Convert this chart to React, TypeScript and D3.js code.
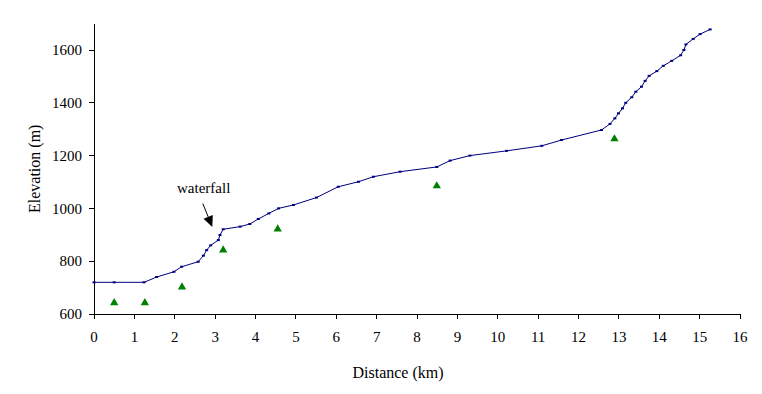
import React from "react";
import * as d3 from "d3";

const distances = [0, 0.5, 1.24, 1.55, 1.98, 2.17, 2.58, 2.71, 2.79, 2.89, 3.08, 3.12, 3.2, 3.62, 3.86, 4.07, 4.33, 4.57, 4.94, 5.51, 6.05, 6.55, 6.92, 7.58, 8.49, 8.82, 9.31, 10.22, 11.09, 11.58, 12.57, 12.78, 12.9, 12.99, 13.09, 13.17, 13.32, 13.42, 13.56, 13.65, 13.75, 13.94, 14.1, 14.31, 14.53, 14.61, 14.66, 14.84, 15.01, 15.26];
const elevations = [720, 720, 720, 740, 760, 779, 798, 821, 842, 860, 880, 899, 921, 931, 941, 960, 981, 1000, 1013, 1041, 1082, 1101, 1120, 1139, 1157, 1181, 1200, 1218, 1237, 1259, 1297, 1320, 1341, 1360, 1379, 1400, 1421, 1442, 1461, 1483, 1502, 1520, 1540, 1559, 1580, 1600, 1621, 1642, 1660, 1678];

const sampleDistances = [0.5, 1.26, 2.18, 3.2, 4.55, 8.49, 12.89];
const sampleElevations = [642, 642, 702, 842, 922, 1085, 1263];

const xTicks = d3.range(0, 17, 1);
const yTicks = [600, 800, 1000, 1200, 1400, 1600];

const annotationText = "waterfall";
const annotationPoint = { d: 2.93, e: 880 };

const W = 762;
const H = 394;
const FONT = "Liberation Serif";
const ts = (size: number) => ({ fontFamily: FONT, fontSize: size + "px" });

export default function App() {
  const x = d3.scaleLinear().domain([0, 16]).range([94, 740]);
  const y = d3.scaleLinear().domain([600, 1700]).range([314, 23.6]);

  const pts = distances.map((d, i) => [d, elevations[i]] as [number, number]);
  const line = d3
    .line<[number, number]>()
    .x((p) => x(p[0]))
    .y((p) => y(p[1]));
  const tri = d3.symbol().type(d3.symbolTriangle).size(30)();

  const tipX = x(annotationPoint.d);
  const tipY = y(annotationPoint.e) - 13;
  const tailX = tipX - 9.5;
  const tailY = tipY - 23.5;
  const ang = Math.atan2(tipY - tailY, tipX - tailX);
  const ah = 11;
  const aw = 5;
  const bx = tipX - ah * Math.cos(ang);
  const by = tipY - ah * Math.sin(ang);
  const head = `M${tipX},${tipY}L${bx + aw * Math.sin(ang)},${by - aw * Math.cos(ang)}L${bx - aw * Math.sin(ang)},${by + aw * Math.cos(ang)}Z`;

  return (
    <svg width={W} height={H} style={{ position: "absolute", left: 0, top: 0, background: "#fff" }}>
      <rect x={0} y={0} width={W} height={H} fill="#fff" />
      {/* axes */}
      <line x1={x(0)} x2={x(0)} y1={y(1700)} y2={y(600)} stroke="#000" strokeWidth={1} shapeRendering="crispEdges" />
      <line x1={x(0)} x2={x(16)} y1={y(600)} y2={y(600)} stroke="#000" strokeWidth={1} shapeRendering="crispEdges" />
      {yTicks.map((t) => (
        <g key={"y" + t}>
          <line x1={x(0) - 5} x2={x(0)} y1={y(t)} y2={y(t)} stroke="#000" shapeRendering="crispEdges" />
          <text x={82} y={y(t)} dy="0.35em" textAnchor="end" style={ts(15)}>
            {t}
          </text>
        </g>
      ))}
      {xTicks.map((t) => (
        <g key={"x" + t}>
          <line x1={x(t)} x2={x(t)} y1={y(600)} y2={y(600) + 5} stroke="#000" shapeRendering="crispEdges" />
          <text x={x(t)} y={342} textAnchor="middle" style={ts(15)}>
            {t}
          </text>
        </g>
      ))}
      <text x={398} y={378} textAnchor="middle" style={ts(16)}>
        Distance (km)
      </text>
      <text transform={`translate(40,${(y(600) + y(1700)) / 2}) rotate(-90)`} textAnchor="middle" style={ts(16)}>
        Elevation (m)
      </text>

      {/* profile line */}
      <path d={line(pts) || ""} fill="none" stroke="#000080" strokeWidth={1} />
      {pts.map((p, i) => (
        <rect key={"m" + i} x={x(p[0]) - 1.5} y={y(p[1]) - 1} width={3} height={2} fill="#000080" />
      ))}

      {/* samples */}
      {sampleDistances.map((d, i) => (
        <path key={"s" + i} d={tri || ""} transform={`translate(${x(d)},${y(sampleElevations[i])})`} fill="#008000" />
      ))}

      {/* annotation */}
      <text x={177} y={193} style={ts(15)}>
        {annotationText}
      </text>
      <line x1={tailX} y1={tailY} x2={bx} y2={by} stroke="#000" strokeWidth={1} />
      <path d={head} fill="#000" />
    </svg>
  );
}
